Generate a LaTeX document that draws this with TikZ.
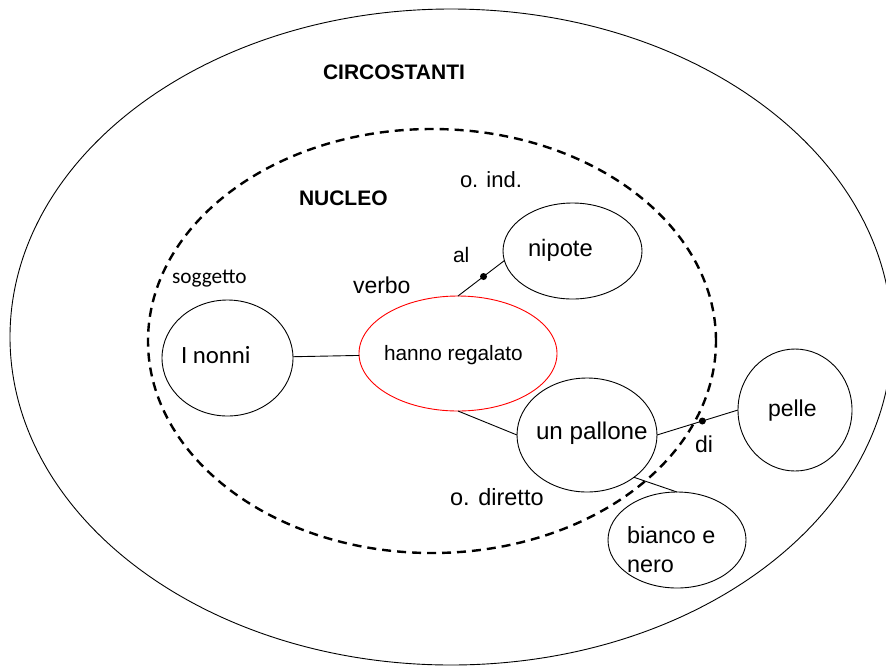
\documentclass[tikz,border=0pt]{standalone}
\usepackage{fontspec}
\setmainfont{Liberation Sans}
\newfontfamily\calib{Carlito}
\usetikzlibrary{shapes.geometric}
\begin{document}
\begin{tikzpicture}[x=1pt,y=-1pt,
  bub/.style={draw, ellipse, inner sep=0pt, outer sep=0pt, line width=0.9pt},
  txt/.style={anchor=base west, inner sep=0pt, outer sep=0pt, font=\fontsize{23}{27}\selectfont},
  ttl/.style={anchor=base west, inner sep=0pt, outer sep=0pt, font=\fontsize{21}{25}\selectfont\bfseries},
  conn/.style={line width=0.9pt},
  dotmark/.style={circle, fill=black, inner sep=0pt, minimum size=7pt}]
\useasboundingbox (0,0) rectangle (886,665);
% regions
\draw[line width=0.9pt] (451,337) ellipse [x radius=441pt, y radius=328pt];
\draw[line width=2.4pt, dash pattern=on 9pt off 6pt] (432,341) ellipse [x radius=284pt, y radius=212pt];
% titles
\node[ttl] (circT) at (323,79) {CIRCOSTANTI};
\node[ttl] (nucT) at (299,205) {NUCLEO};
% bubbles
\node[bub, minimum width=131pt, minimum height=116pt] (nonni) at (227.5,358) {};
\node[bub, draw=red, minimum width=198pt, minimum height=115pt] (verb) at (458,353.5) {};
\node[bub, minimum width=139pt, minimum height=96pt] (nipote) at (572.5,251) {};
\node[bub, minimum width=140pt, minimum height=114pt] (pallone) at (587,435) {};
\node[bub, minimum width=114pt, minimum height=122pt] (pelle) at (795,410) {};
\node[bub, minimum width=138pt, minimum height=96pt] (bianco) at (677,540) {};
% bubble texts
\node[txt, font=\calib\fontsize{24.8}{28}\selectfont] (nonniT) at (181,363) {I nonni};
\node[txt, font=\fontsize{20.8}{25}\selectfont] (verbT) at (384,360) {hanno regalato};
\node[txt, font=\fontsize{23.8}{27}\selectfont] (nipoteT) at (528,256) {nipote};
\node[txt, font=\fontsize{24.2}{28}\selectfont] (palloneT) at (536,439) {un pallone};
\node[txt] (pelleT) at (768,416) {pelle};
\node[txt, font=\fontsize{23.4}{27}\selectfont] (biancoT) at (627,543) {bianco e};
\node[txt, font=\fontsize{23.4}{27}\selectfont] (neroT) at (627,572) {nero};
% role labels
\node[txt, font=\calib\fontsize{21.3}{25}\selectfont] (sogg) at (172,283) {soggetto};
\node[txt] (verbo) at (353,293) {verbo};
\node[txt, font=\fontsize{22}{26}\selectfont] (oind) at (460,187) {o. ind.};
\node[txt, font=\fontsize{23.5}{27}\selectfont] (odir) at (450,505) {o. diretto};
\node[txt, font=\fontsize{21}{25}\selectfont] (al) at (453,262) {al};
\node[txt] (di) at (695,452) {di};
% connectors
\draw[conn] (nonni) -- (verb);
\draw[conn] (verb.north) -- node[dotmark, pos=0.55] (dotal) {} (nipote.188);
\draw[conn] (verb.south) -- (pallone.west);
\draw[conn] (pallone.east) -- node[dotmark, pos=0.56] (dotdi) {} (pelle.west);
\draw[conn] (pallone.318) -- (bianco.north);
\end{tikzpicture}
\end{document}
